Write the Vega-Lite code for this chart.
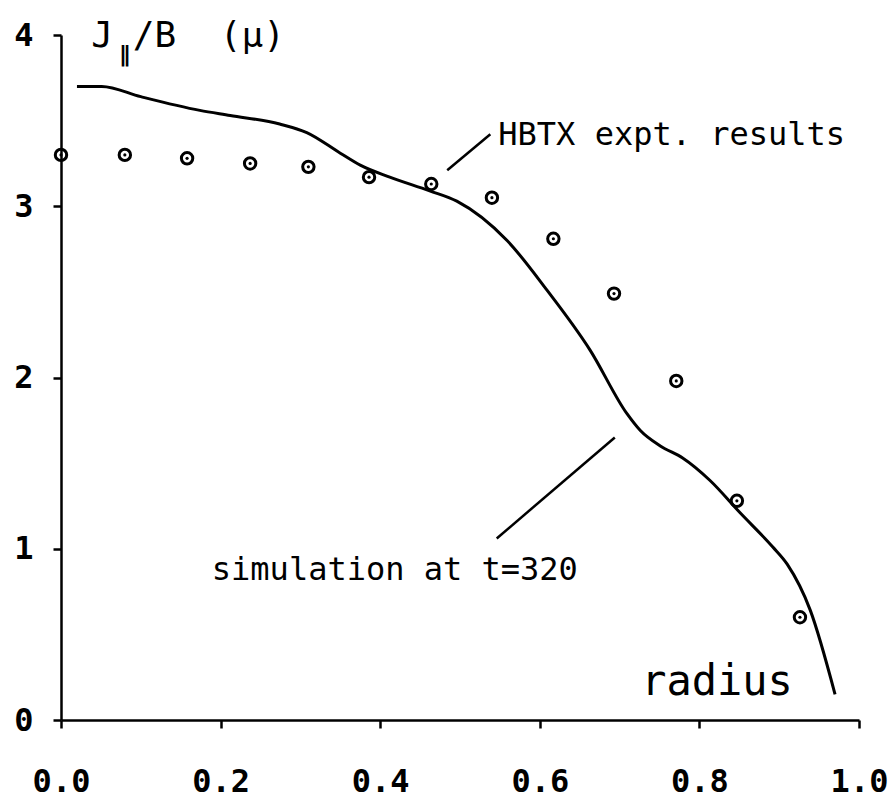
{
  "$schema": "https://vega.github.io/schema/vega-lite/v6.json",
  "width": 798,
  "height": 685,
  "autosize": "none",
  "padding": {"left": 61, "top": 35, "right": 37, "bottom": 87},
  "background": "white",
  "config": {"view": {"stroke": null}},
  "datasets": {
    "points": [
      {"r": 0.0, "v": 3.30},
      {"r": 0.080, "v": 3.30},
      {"r": 0.158, "v": 3.28},
      {"r": 0.237, "v": 3.25},
      {"r": 0.310, "v": 3.23},
      {"r": 0.386, "v": 3.17},
      {"r": 0.464, "v": 3.13},
      {"r": 0.540, "v": 3.05},
      {"r": 0.617, "v": 2.81},
      {"r": 0.693, "v": 2.49},
      {"r": 0.771, "v": 1.98},
      {"r": 0.847, "v": 1.28},
      {"r": 0.926, "v": 0.60}
    ],
    "line": [
      {"r": 0.020, "v": 3.70},
      {"r": 0.051, "v": 3.70},
      {"r": 0.100, "v": 3.64},
      {"r": 0.174, "v": 3.56},
      {"r": 0.212, "v": 3.53},
      {"r": 0.274, "v": 3.48},
      {"r": 0.308, "v": 3.43},
      {"r": 0.350, "v": 3.31},
      {"r": 0.375, "v": 3.24},
      {"r": 0.412, "v": 3.17},
      {"r": 0.462, "v": 3.09},
      {"r": 0.496, "v": 3.03},
      {"r": 0.559, "v": 2.80},
      {"r": 0.609, "v": 2.51},
      {"r": 0.663, "v": 2.16},
      {"r": 0.709, "v": 1.79},
      {"r": 0.726, "v": 1.69},
      {"r": 0.751, "v": 1.60},
      {"r": 0.779, "v": 1.53},
      {"r": 0.813, "v": 1.40},
      {"r": 0.851, "v": 1.21},
      {"r": 0.892, "v": 1.01},
      {"r": 0.910, "v": 0.91},
      {"r": 0.939, "v": 0.64},
      {"r": 0.970, "v": 0.15}
    ],
    "leaders": [
      {"r": 0.484, "v": 3.21, "r2": 0.538, "v2": 3.42},
      {"r": 0.546, "v": 1.06, "r2": 0.694, "v2": 1.65}
    ],
    "notes": [
      {"label": "HBTX expt. results", "r": 0.548, "v": 3.36},
      {"label": "simulation at t=320", "r": 0.189, "v": 0.818}
    ],
    "axisname": [
      {"label": "radius", "r": 0.727, "v": 0.146}
    ],
    "ytitle": [
      {"label": "J", "r": 0.038, "v": 3.93},
      {"label": "/B", "r": 0.090, "v": 3.93},
      {"label": "(μ)", "r": 0.199, "v": 3.93}
    ],
    "ysub": [
      {"label": "∥", "r": 0.073, "v": 3.84}
    ]
  },
  "layer": [
    {
      "data": {"name": "line"},
      "mark": {"type": "line", "color": "black", "strokeWidth": 3, "interpolate": "monotone"},
      "encoding": {
        "x": {
          "field": "r", "type": "quantitative",
          "scale": {"domain": [0, 1], "nice": false, "zero": false},
          "axis": {
            "title": null, "values": [0, 0.2, 0.4, 0.6, 0.8, 1.0], "format": ".1f",
            "grid": false, "domainColor": "black", "domainWidth": 2.5,
            "tickColor": "black", "tickWidth": 2.5, "tickSize": 8,
            "labelFont": "DejaVu Sans Mono", "labelFontWeight": "bold", "labelFontSize": 32,
            "labelColor": "black", "labelPadding": 38, "labelFlush": false
          }
        },
        "y": {
          "field": "v", "type": "quantitative",
          "scale": {"domain": [0, 4], "nice": false},
          "axis": {
            "title": null, "values": [0, 1, 2, 3, 4], "format": "d",
            "grid": false, "domainColor": "black", "domainWidth": 2.5,
            "tickColor": "black", "tickWidth": 2.5, "tickSize": 8,
            "labelFont": "DejaVu Sans Mono", "labelFontWeight": "bold", "labelFontSize": 32,
            "labelColor": "black", "labelPadding": 20, "labelFlush": false
          }
        }
      }
    },
    {
      "data": {"name": "points"},
      "mark": {"type": "point", "shape": "circle", "filled": false, "stroke": "black", "strokeWidth": 3, "size": 130, "opacity": 1},
      "encoding": {
        "x": {"field": "r", "type": "quantitative"},
        "y": {"field": "v", "type": "quantitative"}
      }
    },
    {
      "data": {"name": "points"},
      "mark": {"type": "point", "shape": "circle", "filled": true, "color": "black", "size": 10, "opacity": 1},
      "encoding": {
        "x": {"field": "r", "type": "quantitative"},
        "y": {"field": "v", "type": "quantitative"}
      }
    },
    {
      "data": {"name": "leaders"},
      "mark": {"type": "rule", "color": "black", "strokeWidth": 2.5},
      "encoding": {
        "x": {"field": "r", "type": "quantitative"},
        "y": {"field": "v", "type": "quantitative"},
        "x2": {"field": "r2"},
        "y2": {"field": "v2"}
      }
    },
    {
      "data": {"name": "notes"},
      "mark": {"type": "text", "font": "DejaVu Sans Mono", "fontSize": 32, "align": "left", "baseline": "alphabetic", "color": "black"},
      "encoding": {
        "x": {"field": "r", "type": "quantitative"},
        "y": {"field": "v", "type": "quantitative"},
        "text": {"field": "label"}
      }
    },
    {
      "data": {"name": "axisname"},
      "mark": {"type": "text", "font": "DejaVu Sans Mono", "fontSize": 42, "align": "left", "baseline": "alphabetic", "color": "black"},
      "encoding": {
        "x": {"field": "r", "type": "quantitative"},
        "y": {"field": "v", "type": "quantitative"},
        "text": {"field": "label"}
      }
    },
    {
      "data": {"name": "ytitle"},
      "mark": {"type": "text", "font": "DejaVu Sans Mono", "fontSize": 36, "align": "left", "baseline": "alphabetic", "color": "black"},
      "encoding": {
        "x": {"field": "r", "type": "quantitative"},
        "y": {"field": "v", "type": "quantitative"},
        "text": {"field": "label"}
      }
    },
    {
      "data": {"name": "ysub"},
      "mark": {"type": "text", "font": "DejaVu Sans", "fontSize": 22, "fontWeight": "bold", "align": "left", "baseline": "alphabetic", "color": "black"},
      "encoding": {
        "x": {"field": "r", "type": "quantitative"},
        "y": {"field": "v", "type": "quantitative"},
        "text": {"field": "label"}
      }
    }
  ]
}
